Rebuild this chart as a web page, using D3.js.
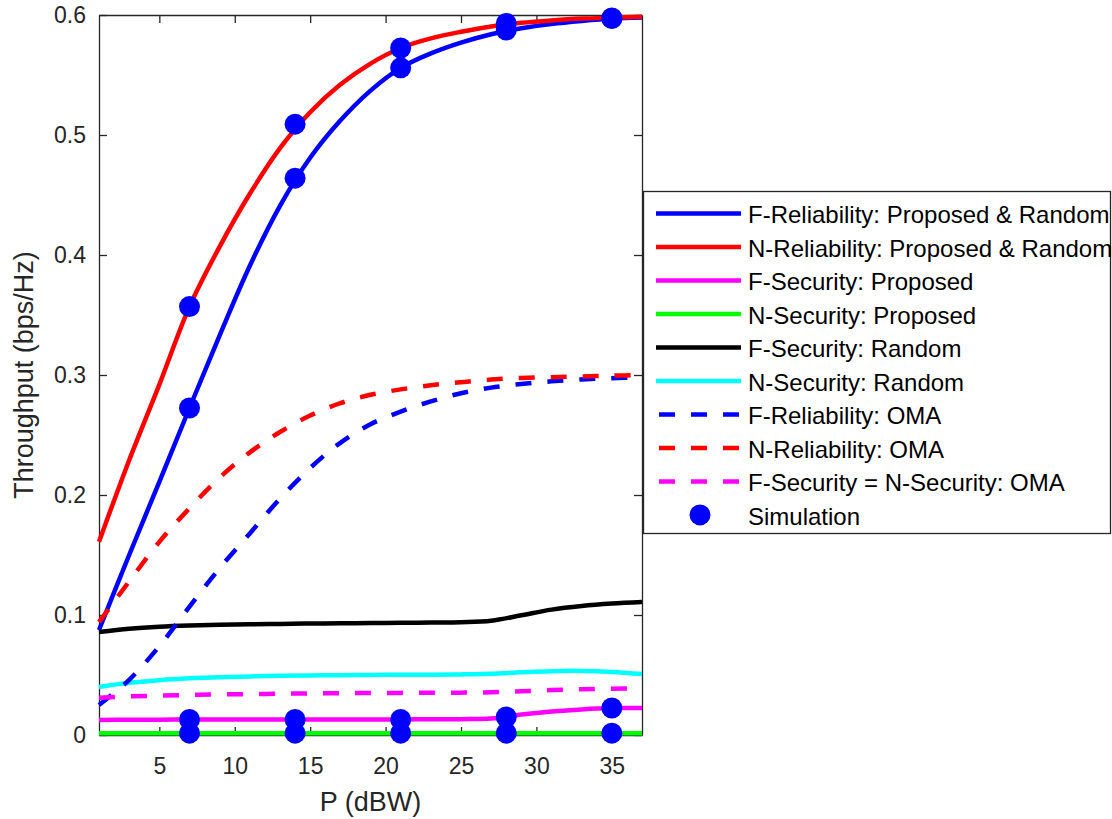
<!DOCTYPE html>
<html>
<head>
<meta charset="utf-8">
<script src="https://cdn.jsdelivr.net/npm/d3@7"></script>
<style>
  body { margin: 0; background: #fff; }
  text { font-family: "Liberation Sans", Arial, Helvetica, sans-serif; }
</style>
</head>
<body>
<svg id="chart" width="1112" height="819"></svg>
<script>
// values
var pGrid = [1, 3, 5, 7, 9, 11, 13, 15, 17, 19, 21, 23, 25, 27, 29, 31, 33, 35, 37];
var fRel = [0.0875, 0.150, 0.211, 0.2725, 0.333, 0.391, 0.441, 0.481, 0.512, 0.537, 0.556, 0.568, 0.577, 0.584, 0.589, 0.5925, 0.595, 0.597, 0.598];
var nRel = [0.161, 0.229, 0.292, 0.357, 0.407, 0.451, 0.489, 0.519, 0.542, 0.5595, 0.5725, 0.5805, 0.586, 0.5905, 0.5935, 0.5955, 0.597, 0.5978, 0.5985];
var fSecProp = [0.0125, 0.0127, 0.0128, 0.0129, 0.013, 0.013, 0.013, 0.013, 0.013, 0.013, 0.013, 0.0131, 0.0132, 0.0138, 0.017, 0.0195, 0.0213, 0.0224, 0.0225];
var nSecProp = [0.0015, 0.0015, 0.0015, 0.0015, 0.0015, 0.0015, 0.0015, 0.0015, 0.0015, 0.0015, 0.0015, 0.0015, 0.0015, 0.0015, 0.0015, 0.0015, 0.0015, 0.0015, 0.0015];
var fSecRand = [0.0858, 0.0885, 0.0902, 0.0912, 0.0918, 0.0922, 0.0926, 0.0929, 0.0931, 0.0933, 0.0935, 0.0937, 0.094, 0.0952, 0.0998, 0.1045, 0.1075, 0.1095, 0.1108];
var nSecRand = [0.040, 0.0435, 0.0457, 0.0472, 0.0482, 0.0488, 0.0493, 0.0496, 0.0498, 0.050, 0.0502, 0.0503, 0.0505, 0.051, 0.0522, 0.0532, 0.0534, 0.0526, 0.0508];
var fRelOma = [0.025, 0.046, 0.074, 0.107, 0.139, 0.168, 0.197, 0.2225, 0.2435, 0.259, 0.2695, 0.278, 0.2848, 0.2895, 0.2925, 0.2947, 0.2963, 0.2973, 0.298];
var nRelOma = [0.094, 0.128, 0.161, 0.189, 0.2145, 0.2355, 0.2525, 0.2662, 0.2765, 0.2835, 0.288, 0.2915, 0.294, 0.2962, 0.2975, 0.2982, 0.2988, 0.2995, 0.2999];
var secOma = [0.031, 0.0322, 0.0328, 0.0334, 0.0338, 0.0341, 0.0344, 0.0347, 0.0349, 0.035, 0.0351, 0.0352, 0.0353, 0.0356, 0.0364, 0.0374, 0.0381, 0.0386, 0.0388];

// simulation points
var simX = [7, 14, 21, 28, 35];
var simFRel = [0.2725, 0.464, 0.556, 0.5875, 0.597];
var simNRel = [0.357, 0.509, 0.5725, 0.593, 0.5975];
var simFSec = [0.013, 0.013, 0.013, 0.015, 0.0225];
var simNSec = [0.0015, 0.0015, 0.0015, 0.0015, 0.0015];

var xTicks = [5, 10, 15, 20, 25, 30, 35];
var yTicks = [0, 0.1, 0.2, 0.3, 0.4, 0.5, 0.6];
var yTickLabels = ["0", "0.1", "0.2", "0.3", "0.4", "0.5", "0.6"];

var legendNames = ["F-Reliability: Proposed & Random", "N-Reliability: Proposed & Random",
  "F-Security: Proposed", "N-Security: Proposed", "F-Security: Random", "N-Security: Random",
  "F-Reliability: OMA", "N-Reliability: OMA", "F-Security = N-Security: OMA", "Simulation"];

var series = [
  {vals: fRel, color: "#0000ff", dash: null},
  {vals: nRel, color: "#ff0000", dash: null},
  {vals: fSecProp, color: "#ff00ff", dash: null},
  {vals: nSecProp, color: "#00ff00", dash: null},
  {vals: fSecRand, color: "#000000", dash: null},
  {vals: nSecRand, color: "#00ffff", dash: null},
  {vals: fRelOma, color: "#0000ff", dash: "16,16"},
  {vals: nRelOma, color: "#ff0000", dash: "16,16"},
  {vals: secOma, color: "#ff00ff", dash: "16,16"}
];

var svg = d3.select("#chart"),
    margin = {top: 15, right: 470, bottom: 84, left: 99},
    width = +svg.attr("width") - margin.left - margin.right,
    height = +svg.attr("height") - margin.top - margin.bottom;

svg.append("rect").attr("width", 1112).attr("height", 819).attr("fill", "#fff");

var x = d3.scaleLinear().domain([1, 37]).range([0, width]);
var y = d3.scaleLinear().domain([0, 0.6]).range([height, 0]);

var g = svg.append("g")
    .attr("transform", "translate(" + margin.left + "," + margin.top + ")");

var axisColor = "#262626";

// box axes with inward ticks
var xAxis = g.append("g")
    .attr("transform", "translate(0," + height + ")")
    .call(d3.axisBottom(x).tickValues(xTicks).tickSizeInner(-8).tickSizeOuter(0).tickPadding(23));
var xTop = g.append("g")
    .call(d3.axisTop(x).tickValues(xTicks).tickSizeInner(-8).tickSizeOuter(0).tickFormat(""));
var yAxis = g.append("g")
    .call(d3.axisLeft(y).tickValues(yTicks).tickSizeInner(-8).tickSizeOuter(0).tickPadding(13)
      .tickFormat(function (d, i) { return yTickLabels[i]; }));
var yRight = g.append("g")
    .attr("transform", "translate(" + width + ",0)")
    .call(d3.axisRight(y).tickValues(yTicks).tickSizeInner(-8).tickSizeOuter(0).tickFormat(""));

[xAxis, xTop, yAxis, yRight].forEach(function (a) {
  a.select(".domain").attr("stroke", axisColor).attr("stroke-width", 1.3);
  a.selectAll(".tick line").attr("stroke", axisColor).attr("stroke-width", 1.3);
  a.selectAll(".tick text").attr("fill", axisColor).style("font-size", "23px");
});

// curves
var line = d3.line()
    .x(function (d, i) { return x(pGrid[i]); })
    .y(function (d) { return y(d); })
    .curve(d3.curveCatmullRom.alpha(0.5));

series.forEach(function (s) {
  g.append("path")
    .datum(s.vals)
    .attr("fill", "none")
    .attr("stroke", s.color)
    .attr("stroke-width", 4.5)
    .attr("stroke-dasharray", s.dash)
    .attr("d", line);
});

// simulation markers
[simFRel, simNRel, simFSec, simNSec].forEach(function (arr) {
  g.selectAll(null)
    .data(arr)
    .enter().append("circle")
    .attr("cx", function (d, i) { return x(simX[i]); })
    .attr("cy", function (d) { return y(d); })
    .attr("r", 10.5)
    .attr("fill", "#0000ff");
});

// axis titles
svg.append("text")
    .attr("x", margin.left + width / 2)
    .attr("y", 811)
    .attr("text-anchor", "middle")
    .attr("fill", axisColor)
    .style("font-size", "27px")
    .text("P (dBW)");

svg.append("text")
    .attr("transform", "translate(33," + (margin.top + height / 2) + ") rotate(-90)")
    .attr("text-anchor", "middle")
    .attr("fill", axisColor)
    .style("font-size", "27px")
    .text("Throughput (bps/Hz)");

// legend
var leg = svg.append("g");
leg.append("rect")
    .attr("x", 643.5).attr("y", 191.5)
    .attr("width", 467).attr("height", 342)
    .attr("fill", "#fff")
    .attr("stroke", axisColor)
    .attr("stroke-width", 1.3);

legendNames.forEach(function (name, i) {
  var ly = 213.4 + i * 33.5;
  if (i < series.length) {
    var s = series[i];
    leg.append("line")
      .attr("x1", s.dash ? 659 : 656).attr("x2", s.dash ? 739 : 741)
      .attr("y1", ly).attr("y2", ly)
      .attr("stroke", s.color)
      .attr("stroke-width", 4.5)
      .attr("stroke-dasharray", s.dash);
  } else {
    leg.append("circle")
      .attr("cx", 700).attr("cy", ly).attr("r", 10.5)
      .attr("fill", "#0000ff");
  }
  leg.append("text")
    .attr("x", 748).attr("y", ly)
    .attr("dy", "0.42em")
    .attr("fill", "#000")
    .style("font-size", "24px")
    .text(name);
});
</script>
</body>
</html>
